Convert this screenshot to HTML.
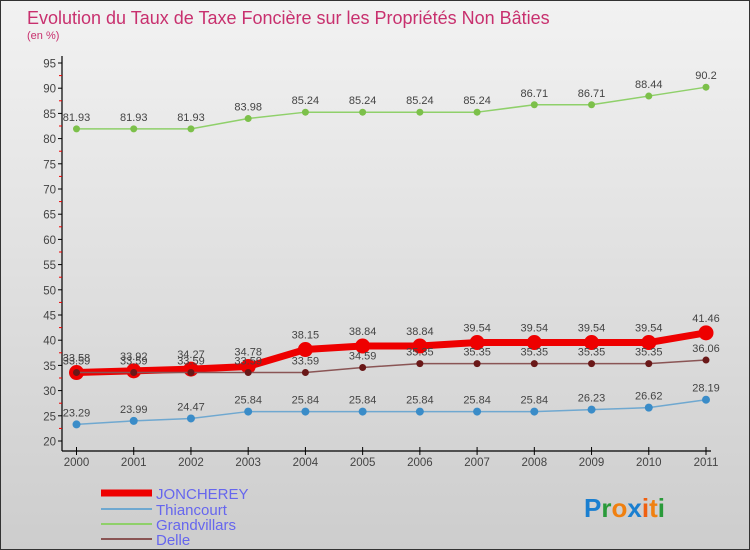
<!DOCTYPE html>
<html><head><meta charset="utf-8"><style>
body{margin:0;}
#c{width:750px;height:550px;position:relative;background:linear-gradient(#f2f2f2,#cdcdcd);box-sizing:border-box;border:1px solid #333;overflow:hidden;font-family:"Liberation Sans",sans-serif;}
svg text{font-family:"Liberation Sans",sans-serif;}
</style></head><body>
<div id="c">
<svg id="s" width="750" height="550">
<text x="26" y="23" font-size="18" fill="#c8306e">Evolution du Taux de Taxe Foncière sur les Propriétés Non Bâties</text>
<text x="26" y="38" font-size="11" fill="#c8306e">(en %)</text>
<g id="ax"></g><g id="ser"></g>
<g>
<line x1="100" y1="492" x2="151" y2="492" stroke="#e00" stroke-width="7"/>
<text x="155" y="498" font-size="15" fill="#6666ee">JONCHEREY</text>
<line x1="100" y1="508" x2="151" y2="508" stroke="#6fa8d0" stroke-width="2"/>
<text x="155" y="514" font-size="15" fill="#6666ee">Thiancourt</text>
<line x1="100" y1="523" x2="151" y2="523" stroke="#8fd06a" stroke-width="2"/>
<text x="155" y="529" font-size="15" fill="#6666ee">Grandvillars</text>
<line x1="100" y1="538" x2="151" y2="538" stroke="#8a5555" stroke-width="2"/>
<text x="155" y="544" font-size="15" fill="#6666ee">Delle</text>
</g>
<g font-size="26" font-weight="bold">
<text x="583" y="516"><tspan fill="#1a7fd0">P</tspan><tspan fill="#2a9a3a">r</tspan><tspan fill="#f08010">o</tspan><tspan fill="#1a7fd0">x</tspan><tspan fill="#f06010">i</tspan><tspan fill="#f08010">t</tspan><tspan fill="#2a9a3a">i</tspan></text>
</g>
</svg>
</div>
<script>
const years=[2000,2001,2002,2003,2004,2005,2006,2007,2008,2009,2010,2011];
const joncherey=[33.58,33.92,34.27,34.78,38.15,38.84,38.84,39.54,39.54,39.54,39.54,41.46];
const thiancourt=[23.29,23.99,24.47,25.84,25.84,25.84,25.84,25.84,25.84,26.23,26.62,28.19];
const grandvillars=[81.93,81.93,81.93,83.98,85.24,85.24,85.24,85.24,86.71,86.71,88.44,90.2];
const delle=[33.59,33.59,33.59,33.59,33.59,34.59,35.35,35.35,35.35,35.35,35.35,36.06];
const yTicks=[20,25,30,35,40,45,50,55,60,65,70,75,80,85,90,95];
const NS='http://www.w3.org/2000/svg';
const x=i=>75.5+i*(705-75.5)/(years.length-1);
const y=v=>440-(v-20)*5.04;
function mk(p,t,a){const e=document.createElementNS(NS,t);for(const k in a)e.setAttribute(k,a[k]);p.appendChild(e);return e;}
const ax=document.getElementById('ax');
let e=mk(ax,'line',{x1:61,y1:55,x2:61,y2:450,stroke:'#000','stroke-width':1.2});


e=mk(ax,'line',{x1:61,y1:450,x2:710,y2:450,stroke:'#000','stroke-width':1.2});


yTicks.forEach(v=>{
  mk(ax,'line',{x1:57,y1:y(v),x2:61,y2:y(v),stroke:'#000'});
  if(v<95)mk(ax,'line',{x1:58,y1:y(v+2.5),x2:61,y2:y(v+2.5),stroke:'#e00'});
  const t=mk(ax,'text',{x:55,y:y(v)+4.5,'font-size':11.5,fill:'#444','text-anchor':'end'});
  t.textContent=v;
  
  
});
years.forEach((yr,i)=>{
  mk(ax,'line',{x1:x(i),y1:446,x2:x(i),y2:454,stroke:'#000'});
  const t=mk(ax,'text',{x:x(i),y:465,'font-size':11.5,fill:'#444','text-anchor':'middle'});
  t.textContent=yr;
  
  
});
const ser=document.getElementById('ser');
function draw(name,vals,color,w,r,dot){
  const g=mk(ser,'g',{});
  
  
  const l=mk(g,'polyline',{points:vals.map((v,i)=>x(i)+','+y(v)).join(' '),fill:'none',stroke:color,'stroke-width':w,'stroke-linejoin':'round'});
  
  
  vals.forEach((v,i)=>{
    const c=mk(g,'circle',{cx:x(i),cy:y(v),r:r,fill:dot});
    
    
    const t=mk(g,'text',{x:x(i),y:y(v)-8-(r>4?3:0),'font-size':11,fill:'#444','text-anchor':'middle'});
    t.textContent=v;
    
    
  });
}
draw('grandvillars',grandvillars,'#8fd06a',1.5,3.5,'#7cc04a');
draw('thiancourt',thiancourt,'#6fa8d0',1.5,4,'#3a8cc8');
draw('joncherey',joncherey,'#ee0000',7,7.5,'#ee0000');
draw('delle',delle,'#8a5555',1.5,3.5,'#6a1818');
</script>
</body></html>
